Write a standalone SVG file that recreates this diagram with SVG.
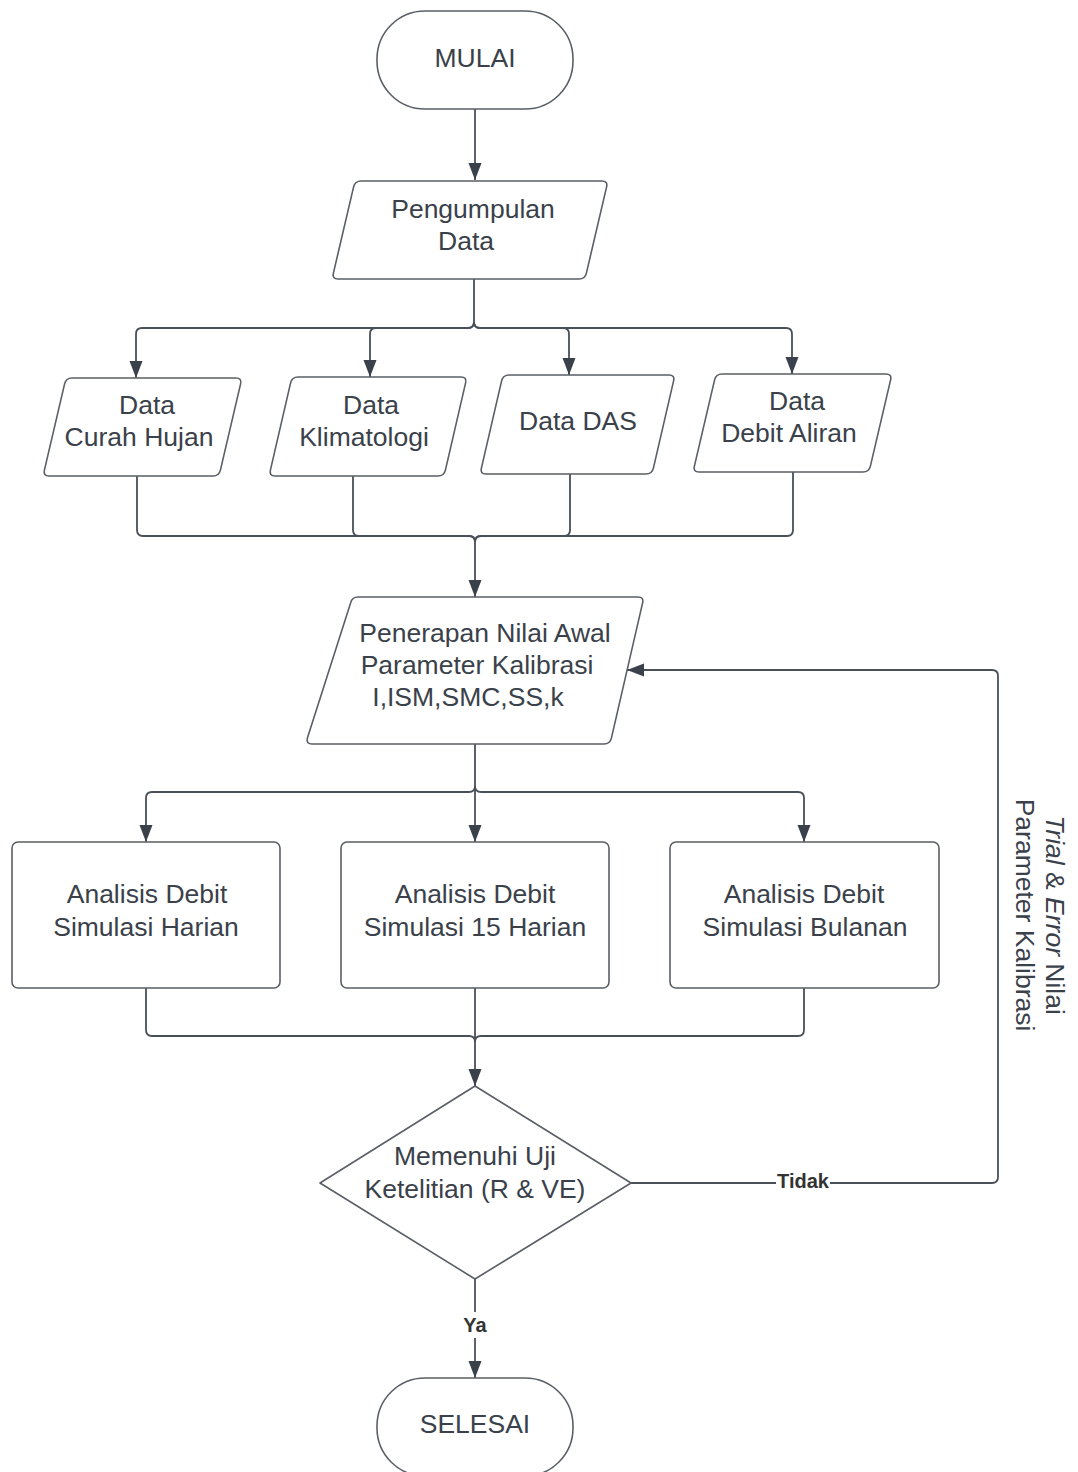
<svg xmlns="http://www.w3.org/2000/svg" width="1078" height="1472" viewBox="0 0 1078 1472">
<defs>
<marker id="arr" markerUnits="userSpaceOnUse" markerWidth="18" markerHeight="14" refX="17" refY="6.5" orient="auto">
<path d="M0,0 L17,6.5 L0,13 Z" fill="#3a414a"/>
</marker>
<style>
.shape{fill:#fff;stroke:#5a5f66;stroke-width:1.6;stroke-linejoin:round}
.t{font-family:"Liberation Sans",Arial,sans-serif;font-size:26.5px;fill:#3a414a;text-anchor:middle}
.lbl{font-family:"Liberation Sans",Arial,sans-serif;font-size:20px;font-weight:bold;fill:#333;text-anchor:middle}
.c{fill:none;stroke:#4a5058;stroke-width:1.8}
.ca{fill:none;stroke:#4a5058;stroke-width:1.8;marker-end:url(#arr)}
</style>
</defs>
<rect width="1078" height="1472" fill="#fff"/>

<g id="connectors">
<path class="ca" d="M475,109 V180"/>
<path class="c" d="M474,279 V322 Q474,328 468,328 H142 Q136,328 136,334 V378" marker-end="url(#arr)"/>
<path class="c" d="M474,322 Q474,328 468,328 H376 Q370,328 370,334 V377" marker-end="url(#arr)"/>
<path class="c" d="M474,322 Q474,328 480,328 H563 Q569,328 569,334 V375" marker-end="url(#arr)"/>
<path class="c" d="M474,322 Q474,328 480,328 H786 Q792,328 792,334 V374" marker-end="url(#arr)"/>
<path class="c" d="M137,476 V530 Q137,536 143,536 H469 Q475,536 475,542 V597" marker-end="url(#arr)"/>
<path class="c" d="M353,476 V530 Q353,536 359,536 H469 Q475,536 475,542"/>
<path class="c" d="M570,474 V530 Q570,536 564,536 H481 Q475,536 475,542"/>
<path class="c" d="M793,472 V530 Q793,536 787,536 H481 Q475,536 475,542"/>
<path class="c" d="M475,744 V786 Q475,792 469,792 H152 Q146,792 146,798 V842" marker-end="url(#arr)"/>
<path class="c" d="M475,786 V842" marker-end="url(#arr)"/>
<path class="c" d="M475,786 Q475,792 481,792 H798 Q804,792 804,798 V842" marker-end="url(#arr)"/>
<path class="c" d="M146,988 V1030 Q146,1036 152,1036 H469 Q475,1036 475,1042 V1086" marker-end="url(#arr)"/>
<path class="c" d="M475,988 V1042"/>
<path class="c" d="M804,988 V1030 Q804,1036 798,1036 H481 Q475,1036 475,1042"/>
<path class="c" d="M631,1183 H992 Q998,1183 998,1177 V676 Q998,670 992,670 H627" marker-end="url(#arr)"/>
<path class="c" d="M475,1279 V1378" marker-end="url(#arr)"/>
<rect x="776" y="1170" width="54" height="24" fill="#fff"/>
<text class="lbl" x="803" y="1188">Tidak</text>
<rect x="461" y="1312" width="28" height="26" fill="#fff"/>
<text class="lbl" x="475" y="1332">Ya</text>
</g>

<g id="mulai">
<rect class="shape" x="377" y="11" width="196" height="98" rx="48"/>
<text class="t" x="475" y="67">MULAI</text>
</g>

<g id="pengumpulan">
<path class="shape" d="M361,181 H602 Q608,181 606.6,186.9 L586.4,273.1 Q585,279 579,279 H338 Q332,279 333.4,273.1 L353.6,186.9 Q355,181 361,181 Z"/>
<text class="t" x="473" y="218">Pengumpulan</text>
<text class="t" x="466" y="250">Data</text>
</g>

<g id="curah">
<path class="shape" d="M72,378 H236 Q242,378 240.6,383.9 L220.4,470.1 Q219,476 213,476 H49 Q43,476 44.4,470.1 L64.6,383.9 Q66,378 72,378 Z"/>
<text class="t" x="147" y="414">Data</text>
<text class="t" x="139" y="446">Curah Hujan</text>
</g>

<g id="klimatologi">
<path class="shape" d="M298,377 H461 Q467,377 465.6,382.9 L445.4,470.1 Q444,476 438,476 H275 Q269,476 270.4,470.1 L290.6,382.9 Q292,377 298,377 Z"/>
<text class="t" x="371" y="414">Data</text>
<text class="t" x="364" y="446">Klimatologi</text>
</g>

<g id="das">
<path class="shape" d="M509,375 H669 Q675,375 673.6,380.9 L653.4,468.1 Q652,474 646,474 H486 Q480,474 481.4,468.1 L501.6,380.9 Q503,375 509,375 Z"/>
<text class="t" x="578" y="430">Data DAS</text>
</g>

<g id="debit">
<path class="shape" d="M722,374 H886 Q892,374 890.6,379.9 L870.4,466.1 Q869,472 863,472 H699 Q693,472 694.4,466.1 L714.6,379.9 Q716,374 722,374 Z"/>
<text class="t" x="797" y="410">Data</text>
<text class="t" x="789" y="442">Debit Aliran</text>
</g>

<g id="penerapan">
<path class="shape" d="M358,597 H638 Q644,597 642.6,602.9 L611.4,738.1 Q610,744 604,744 H312 Q306,744 307.4,738.1 L350.6,602.9 Q352,597 358,597 Z"/>
<text class="t" x="485" y="642">Penerapan Nilai Awal</text>
<text class="t" x="477" y="674">Parameter Kalibrasi</text>
<text class="t" x="468" y="706">I,ISM,SMC,SS,k</text>
</g>

<g id="harian">
<rect class="shape" x="12" y="842" width="268" height="146" rx="6"/>
<text class="t" x="147" y="903">Analisis Debit</text>
<text class="t" x="146" y="936">Simulasi Harian</text>
</g>

<g id="harian15">
<rect class="shape" x="341" y="842" width="268" height="146" rx="6"/>
<text class="t" x="475" y="903">Analisis Debit</text>
<text class="t" x="475" y="936">Simulasi 15 Harian</text>
</g>

<g id="bulanan">
<rect class="shape" x="670" y="842" width="269" height="146" rx="6"/>
<text class="t" x="804" y="903">Analisis Debit</text>
<text class="t" x="805" y="936">Simulasi Bulanan</text>
</g>

<g id="uji">
<path class="shape" d="M475,1086 L631,1183 L475,1279 L320,1183 Z"/>
<text class="t" x="475" y="1165">Memenuhi Uji</text>
<text class="t" x="475" y="1198">Ketelitian (R &amp; VE)</text>
</g>

<g id="selesai">
<rect class="shape" x="377" y="1378" width="196" height="98" rx="48"/>
<text class="t" x="475" y="1433">SELESAI</text>
</g>

<g id="feedback-label">
<text class="t" transform="translate(1046,915) rotate(90)" x="0" y="0"><tspan font-style="italic">Trial</tspan> &amp; <tspan font-style="italic">Error</tspan> Nilai</text>
<text class="t" transform="translate(1016,915) rotate(90)" x="0" y="0">Parameter Kalibrasi</text>
</g>
</svg>
